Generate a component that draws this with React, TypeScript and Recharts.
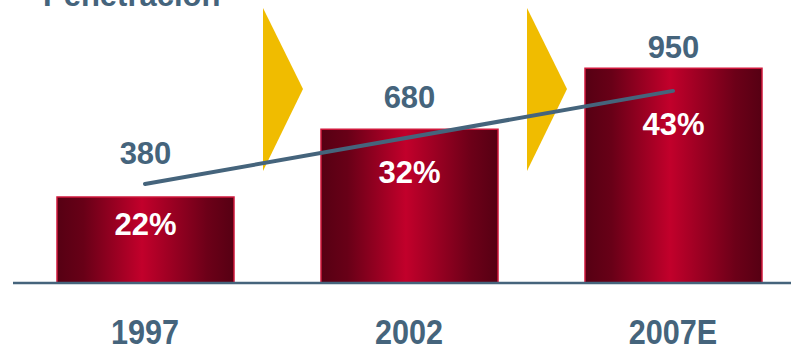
import React from 'react';
import { ComposedChart, Bar, Line, XAxis, YAxis, ReferenceLine, LabelList } from 'recharts';

const years = ['1997', '2002', '2007E'];
const units = [380, 680, 950];
const penetration = [22, 32, 43];
const trend: (number | null)[] = [438, null, 850];
const arrowsAt = ['2002', '2007E'];

const chartData = years.map((year, i) => ({
  year,
  units: units[i],
  pct: penetration[i],
  trend: trend[i],
}));

// labels were nudged by hand in the original slide
const valueLift = [44, 32, 21];
const pctDrop = [27, 43, 56];

const SLATE = '#45647c';
const FONT = '"Liberation Sans", Arial, sans-serif';

const ValueLabel = ({ x, y, width, value }: any) => {
  const i = Math.max(0, units.indexOf(Number(value)));
  return (
    <text x={x + width / 2} y={y - valueLift[i] + 11} textAnchor="middle" fill={SLATE}
      fontSize={31} fontWeight="bold" fontFamily={FONT}>
      {value}
    </text>
  );
};

const PctLabel = ({ x, y, width, value }: any) => {
  const i = Math.max(0, penetration.indexOf(Number(value)));
  return (
    <text x={x + width / 2} y={y + pctDrop[i] + 11} textAnchor="middle" fill="#ffffff"
      fontSize={31} fontWeight="bold" fontFamily={FONT}>
      {value}%
    </text>
  );
};

const YearTick = ({ x, y, payload }: any) => (
  <text transform={`translate(${x},${y + 53}) scale(0.85,1)`} textAnchor="middle" fill={SLATE}
    fontSize={36} fontWeight="bold" fontFamily={FONT}>
    {payload.value}
  </text>
);

const Chevron = (props: any) => {
  const { x1, y1, y2 } = props;
  const bottom = Math.max(y1, y2);
  const left = x1 - 14;
  const pts = `${left},${bottom - 275} ${left + 40},${bottom - 194} ${left},${bottom - 112}`;
  return <polygon points={pts} fill="#f0bc00" />;
};

const App: React.FC = () => {
  return (
    <div style={{ position: 'absolute', left: 0, top: 0, width: 791, height: 345, overflow: 'hidden', background: '#fff' }}>
      <ComposedChart width={805} height={345} data={chartData} margin={{ top: 57, right: 0, bottom: 0, left: 13 }}>
        <defs>
          <linearGradient id="barRed" x1="0" y1="0" x2="1" y2="0">
            <stop offset="0%" stopColor="#560013" />
            <stop offset="15%" stopColor="#680017" />
            <stop offset="48%" stopColor="#c2002b" />
            <stop offset="85%" stopColor="#6c0018" />
            <stop offset="100%" stopColor="#560013" />
          </linearGradient>
        </defs>
        <text x={43} y={6} fill={SLATE} fontSize={31} fontWeight="bold" fontFamily={FONT}>
          Penetración
        </text>
        <XAxis dataKey="year" height={62} tickLine={false} axisLine={{ stroke: SLATE, strokeWidth: 2.5 }}
          tick={<YearTick />} interval={0} />
        <YAxis hide domain={[0, 1000]} />
        {arrowsAt.map((a) => (
          <ReferenceLine key={a} x={a} position="start" shape={<Chevron />} />
        ))}
        <Bar dataKey="units" barSize={177} fill="url(#barRed)" stroke="#d0183c" strokeWidth={1.5} isAnimationActive={false}>
          <LabelList dataKey="units" content={<ValueLabel />} />
          <LabelList dataKey="pct" content={<PctLabel />} />
        </Bar>
        <Line dataKey="trend" stroke={SLATE} strokeWidth={4} strokeLinecap="round" dot={false}
          activeDot={false} connectNulls isAnimationActive={false} />
      </ComposedChart>
    </div>
  );
};

export default App;
